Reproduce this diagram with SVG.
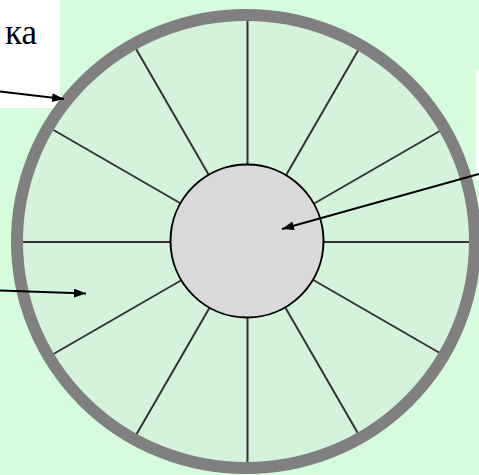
<svg xmlns="http://www.w3.org/2000/svg" width="479" height="475" viewBox="0 0 479 475">
  <style>
    .box { fill: #ffffff; stroke: none; }
    .spoke { stroke: #333333; stroke-width: 2; }
    .conn { stroke: #000000; stroke-width: 2; fill: none; marker-end: url(#arrow); }
    .lbl { font-family: "Liberation Serif", "Times New Roman", serif; font-size: 35px; fill: #000000; }
  </style>
  <defs>
    <marker id="arrow" markerUnits="userSpaceOnUse" markerWidth="14" markerHeight="10" refX="12" refY="4.5" orient="auto">
      <path d="M0,0 L12,4.5 L0,9 Z" fill="#000000"/>
    </marker>
  </defs>
  <rect x="0" y="0" width="479" height="475" fill="#d5fcdc"/>
  <g id="label-left">
    <rect class="box" x="0" y="0" width="60" height="108"/>
    <text class="lbl" x="37" y="44" text-anchor="end">ка</text>
  </g>
  <g id="label-right">
    <rect class="box" x="476" y="70" width="10" height="110"/>
  </g>
  <g id="wheel">
    <ellipse cx="246" cy="241.5" rx="229" ry="226.5" fill="#d5f3da"/>
    <g id="spokes">
      <line class="spoke" x1="247.5" y1="242" x2="247.5" y2="18"/>
      <line class="spoke" x1="247.5" y1="242" x2="359.5" y2="48"/>
      <line class="spoke" x1="247.5" y1="242" x2="441.5" y2="130"/>
      <line class="spoke" x1="247.5" y1="242" x2="471.5" y2="242"/>
      <line class="spoke" x1="247.5" y1="242" x2="441.5" y2="354"/>
      <line class="spoke" x1="247.5" y1="242" x2="359.5" y2="436"/>
      <line class="spoke" x1="247.5" y1="242" x2="247.5" y2="466"/>
      <line class="spoke" x1="247.5" y1="242" x2="135.5" y2="436"/>
      <line class="spoke" x1="247.5" y1="242" x2="53.5" y2="354"/>
      <line class="spoke" x1="247.5" y1="242" x2="20" y2="242"/>
      <line class="spoke" x1="247.5" y1="242" x2="53.5" y2="130"/>
      <line class="spoke" x1="247.5" y1="242" x2="135.5" y2="48"/>
    </g>
    <ellipse cx="246" cy="241.5" rx="229" ry="226.5" fill="none" stroke="#808080" stroke-width="12"/>
  </g>
  <g id="hub">
    <circle cx="247" cy="241" r="76.5" fill="#d9d9d9" stroke="#000000" stroke-width="2"/>
  </g>
  <g id="connectors">
    <line class="conn" x1="0" y1="91.5" x2="64" y2="99"/>
    <line class="conn" x1="479" y1="174" x2="282" y2="229"/>
    <line class="conn" x1="0" y1="290.5" x2="86" y2="293.5"/>
  </g>
</svg>
